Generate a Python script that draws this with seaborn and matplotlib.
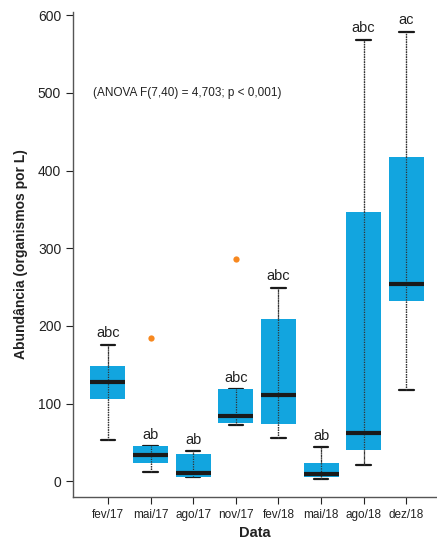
import numpy as np
import pandas as pd
import matplotlib
matplotlib.use("Agg")
import matplotlib.pyplot as plt
import seaborn as sns

# Five-number summaries (min, Q1, median, Q3, max)
datas = ["fev/17", "mai/17", "ago/17", "nov/17", "fev/18", "mai/18", "ago/18", "dez/18"]
minimos = [53, 11.6, 5.6, 72.5, 55.4, 2.6, 21, 118]
q1s = [105.6, 23.6, 5.6, 75, 73.8, 5.6, 40.3, 232]
medianas = [127.5, 34.3, 11.2, 84.5, 111.6, 9, 62.7, 254.5]
q3s = [148, 45, 34.8, 118.5, 208.6, 23.2, 346, 417.6]
maximos = [176, 45, 38.6, 118.5, 249, 43.8, 568.6, 578.5]
letras = ["abc", "ab", "ab", "abc", "abc", "ab", "abc", "ac"]

# outliers
out_datas = ["mai/17", "nov/17"]
out_valores = [184, 286]

azul = "#12a5df"
laranja = "#f7881f"

rows = []
for i, d in enumerate(datas):
    for v in (minimos[i], q1s[i], medianas[i], q3s[i], maximos[i]):
        rows.append({"Data": d, "Abundancia": v})
df = pd.DataFrame(rows)

sns.set_style("ticks")
plt.rcParams["font.family"] = ["Liberation Sans", "DejaVu Sans"]

fig = plt.figure(figsize=(4.37, 5.46), dpi=100)
ax = fig.add_axes([0.167, 0.09, 0.833, 0.888])

# dotted whisker line through the full range (drawn over the boxes)
ax.vlines(range(len(datas)), minimos, maximos, colors="#333333",
          linestyles=(0, (1, 1)), linewidth=0.9, zorder=4)

sns.boxplot(data=df, x="Data", y="Abundancia", order=datas, ax=ax,
            whis=(0, 100), width=0.82, color=azul, saturation=1,
            linewidth=0, showfliers=False,
            boxprops=dict(facecolor=azul, edgecolor=azul, linewidth=0, zorder=2),
            medianprops=dict(color="#1a1a1a", linewidth=3, zorder=5),
            whiskerprops=dict(color="#333333", linestyle=(0, (1, 1)), linewidth=0.9),
            capprops=dict(color="#1a1a1a", linewidth=1.6, zorder=1),
            capwidths=0.34)

sns.stripplot(x=out_datas, y=out_valores, order=datas, ax=ax, jitter=False,
              color=laranja, size=4.5, linewidth=0, zorder=6)

for i, d in enumerate(datas):
    ax.text(i, maximos[i] + 6, letras[i], ha="center", va="bottom",
            fontsize=10.5, color="#222222")

ax.text(-0.35, 500, "(ANOVA F(7,40) = 4,703; p < 0,001)", ha="left",
        va="center", fontsize=8.5, color="#222222")

ax.set_xlim(-0.82, 7.72)
ax.set_ylim(-20, 604)
ax.set_yticks([0, 100, 200, 300, 400, 500, 600])
ax.set_xlabel("Data", fontsize=10.5, fontweight="bold", color="#222222")
ax.set_ylabel("Abundância (organismos por L)", fontsize=10, fontweight="bold",
              color="#222222", labelpad=7)
ax.tick_params(axis="y", labelsize=10, colors="#222222", length=5)
ax.tick_params(axis="x", labelsize=8.5, colors="#222222", length=5)
for s in ("left", "bottom"):
    ax.spines[s].set_color("#555555")
    ax.spines[s].set_linewidth(1)
ax.spines["top"].set_visible(False)
ax.spines["right"].set_visible(False)

fig.savefig("out.png", dpi=100)
